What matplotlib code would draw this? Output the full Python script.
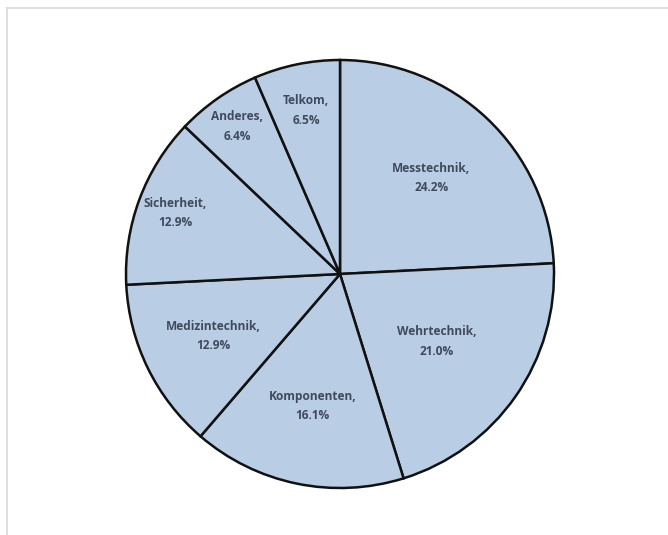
import matplotlib.pyplot as plt
import numpy as np
from matplotlib.lines import Line2D

categories = ["Messtechnik", "Wehrtechnik", "Komponenten", "Medizintechnik",
              "Sicherheit", "Anderes", "Telkom"]
shares = [24.2, 21.0, 16.1, 12.9, 12.9, 6.4, 6.5]
# radial position of each label (fraction of radius), like Excel's best fit
label_r = [0.62, 0.55, 0.63, 0.66, 0.82, 0.84, 0.78]

W, H = 668, 535
fig = plt.figure(figsize=(W / 100, H / 100), dpi=100)

# light grey frame of the chart area (top and left edges visible)
fig.add_artist(Line2D([7 / W, 1], [1 - 8 / H, 1 - 8 / H], color='#d9d9d9', lw=1.2))
fig.add_artist(Line2D([7 / W, 7 / W], [0, 1 - 8 / H], color='#d9d9d9', lw=1.2))

cx, cy, R = 340, 274, 214
pad = 10
ax = fig.add_axes([(cx - R - pad) / W, (H - cy - R - pad) / H,
                   2 * (R + pad) / W, 2 * (R + pad) / H])

wedges, _ = ax.pie(shares, startangle=90, counterclock=False, radius=1,
                   colors=['#b9cde5'] * len(shares),
                   wedgeprops=dict(edgecolor='#111111', linewidth=1.8))
lim = (R + pad) / R
ax.set_xlim(-lim, lim)
ax.set_ylim(-lim, lim)
ax.axis('off')

for w, name, val, r in zip(wedges, categories, shares, label_r):
    mid = np.deg2rad((w.theta1 + w.theta2) / 2)
    ax.text(r * np.cos(mid), r * np.sin(mid), f"{name},\n{val:.1f}%",
            ha='center', va='center', fontsize=8.6, fontweight='bold',
            family='Open Sans', color='#404a5c', linespacing=1.65)

plt.savefig("out.png", dpi=100)
